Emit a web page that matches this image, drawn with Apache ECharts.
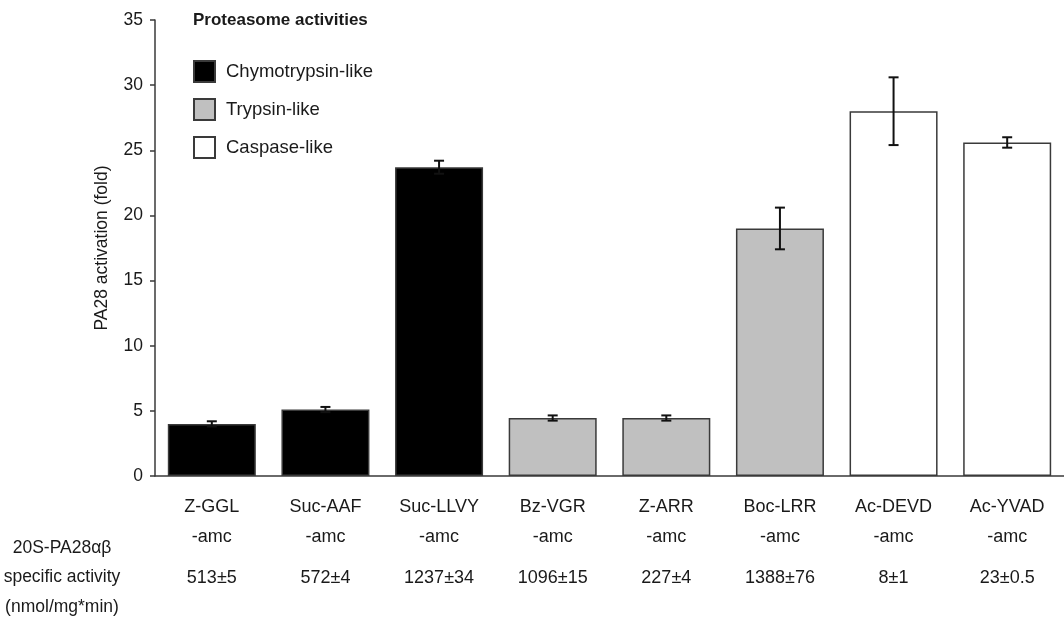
<!DOCTYPE html>
<html>
<head>
<meta charset="utf-8">
<script src="https://cdn.jsdelivr.net/npm/echarts@6/dist/echarts.min.js"></script>
<style>
  html, body { margin: 0; padding: 0; background: #fff; }
  #chart { width: 1064px; height: 630px; }
</style>
</head>
<body>
<div id="chart"></div>
<script>
// Substrates, their activation by PA28 and the specific activity of 20S-PA28αβ
const substrates = ['Z-GGL', 'Suc-AAF', 'Suc-LLVY', 'Bz-VGR', 'Z-ARR', 'Boc-LRR', 'Ac-DEVD', 'Ac-YVAD'];
const activation = [4.0, 5.1, 23.7, 4.45, 4.45, 19.0, 28.0, 25.6];
const activationErr = [0.2, 0.2, 0.5, 0.2, 0.2, 1.6, 2.6, 0.4];
const specificActivity = ['513±5', '572±4', '1237±34', '1096±15', '227±4', '1388±76', '8±1', '23±0.5'];
const groupNames = ['Chymotrypsin-like', 'Trypsin-like', 'Caspase-like'];
const groupOfSubstrate = [0, 0, 0, 1, 1, 1, 2, 2];
const groupColors = ['#000000', '#c0c0c0', '#ffffff'];
const yTicks = [0, 5, 10, 15, 20, 25, 30, 35];

const FONT = '"Liberation Sans", Arial, sans-serif';
const TEXT = '#1a1a1a';
const LINE = '#3a3a3a';

// one bar series per activity class, overlapping on the shared category slots
const barSeries = groupNames.map((name, g) => ({
  name: name,
  type: 'bar',
  barWidth: 88,
  barGap: '-100%',
  data: activation.map((v, i) => (groupOfSubstrate[i] === g ? v : '-')),
  itemStyle: { color: groupColors[g], borderColor: LINE, borderWidth: 1.5 },
  emphasis: { disabled: true }
}));

// mean ± error whiskers on top of the bars
const errorSeries = {
  type: 'custom',
  z: 5,
  data: activation.map((v, i) => [i, v, activationErr[i]]),
  renderItem: function (params, api) {
    const i = api.value(0), v = api.value(1), e = api.value(2);
    const hi = api.coord([i, v + e]);
    const lo = api.coord([i, v - e]);
    const cap = 5;
    const style = { stroke: '#111', lineWidth: 2 };
    return {
      type: 'group',
      children: [
        { type: 'line', shape: { x1: hi[0], y1: hi[1], x2: lo[0], y2: lo[1] }, style: style },
        { type: 'line', shape: { x1: hi[0] - cap, y1: hi[1], x2: hi[0] + cap, y2: hi[1] }, style: style },
        { type: 'line', shape: { x1: lo[0] - cap, y1: lo[1], x2: lo[0] + cap, y2: lo[1] }, style: style }
      ]
    };
  }
};

const chart = echarts.init(document.getElementById('chart'), null, { renderer: 'canvas' });
chart.setOption({
  animation: false,
  backgroundColor: '#fff',
  textStyle: { fontFamily: FONT, color: TEXT },
  title: {
    text: 'Proteasome activities',
    left: 188, top: 7,
    textStyle: { fontFamily: FONT, fontSize: 17, fontWeight: 'bold', color: TEXT }
  },
  legend: {
    orient: 'vertical',
    left: 188, top: 55,
    itemWidth: 21, itemHeight: 21, itemGap: 15,
    icon: 'rect',
    data: groupNames,
    textStyle: { fontFamily: FONT, fontSize: 18.5, color: TEXT, padding: [0, 0, 0, 6] }
  },
  grid: { left: 155, right: 0, top: 20, bottom: 154, containLabel: false },
  xAxis: {
    type: 'category',
    data: substrates,
    axisLine: { lineStyle: { color: LINE, width: 1.5 } },
    axisTick: { show: false },
    axisLabel: {
      margin: 16,
      interval: 0,
      formatter: function (val, idx) {
        return '{a|' + val + '}\n{a|-amc}\n{b|' + specificActivity[idx] + '}';
      },
      rich: {
        a: { fontFamily: FONT, fontSize: 18, lineHeight: 30, color: TEXT, align: 'center' },
        b: { fontFamily: FONT, fontSize: 18, lineHeight: 52, color: TEXT, align: 'center' }
      }
    }
  },
  yAxis: {
    type: 'value',
    min: yTicks[0], max: yTicks[yTicks.length - 1], interval: 5,
    name: 'PA28 activation (fold)',
    nameLocation: 'middle',
    nameGap: 44,
    nameTextStyle: { fontFamily: FONT, fontSize: 17.5, color: TEXT },
    axisLine: { show: true, lineStyle: { color: LINE, width: 1.5 } },
    axisTick: { show: true, inside: false, length: 5, lineStyle: { color: LINE, width: 1.5 } },
    axisLabel: { margin: 12, fontFamily: FONT, fontSize: 17.5, color: TEXT },
    splitLine: { show: false }
  },
  graphic: [{
    type: 'text',
    x: 62, y: 533,
    style: {
      text: '20S-PA28αβ\nspecific activity\n(nmol/mg*min)',
      textAlign: 'center',
      fontFamily: FONT, fontSize: 17.5, lineHeight: 29.5, fill: TEXT
    }
  }],
  series: barSeries.concat([errorSeries])
});
</script>
</body>
</html>
